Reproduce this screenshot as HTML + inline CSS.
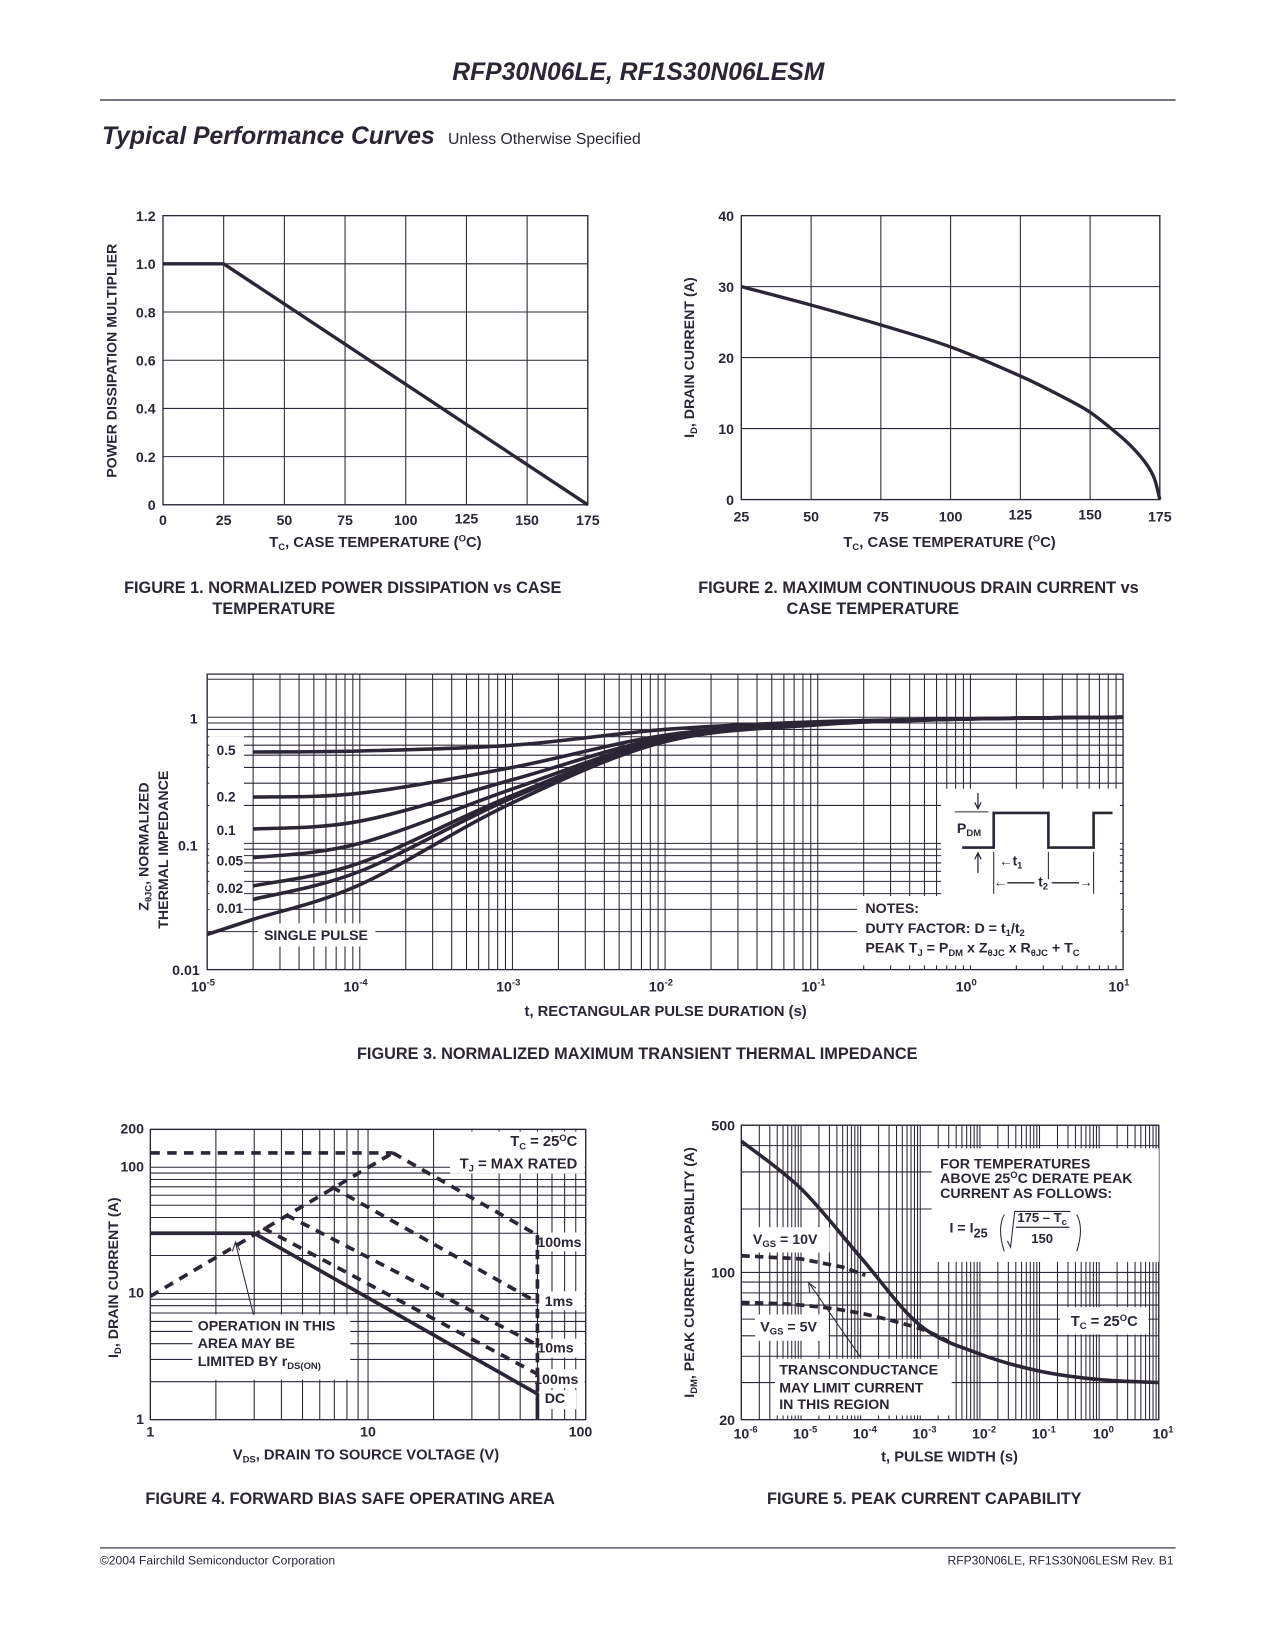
<!DOCTYPE html>
<html><head><meta charset="utf-8"><style>
html,body{margin:0;padding:0;background:#fff;}
svg{display:block;font-family:"Liberation Sans",sans-serif;}
.t{font-weight:bold;fill:#2b2535;}
</style></head><body>
<svg id="page" xmlns="http://www.w3.org/2000/svg" width="1275" height="1650" viewBox="0 0 1212.5 1569">
<rect x="0" y="0" width="1212.5" height="1569" fill="#fff"/>
<text x="607" y="76" text-anchor="middle" font-size="23.5" font-style="italic" class="t">RFP30N06LE, RF1S30N06LESM</text>
<line x1="95" y1="95" x2="1118" y2="95" stroke="#2b2535" stroke-width="1.2"/>
<text x="97" y="137" font-size="23.5" font-style="italic" class="t">Typical Performance Curves</text>
<text x="426" y="137" font-size="15" fill="#2b2535">Unless Otherwise Specified</text>
<line x1="95" y1="1472" x2="1118" y2="1472" stroke="#2b2535" stroke-width="1"/>
<text x="95" y="1488" font-size="11.5" fill="#2b2535">©2004 Fairchild Semiconductor Corporation</text>
<text x="1116" y="1488" font-size="11.5" text-anchor="end" fill="#2b2535">RFP30N06LE, RF1S30N06LESM Rev. B1</text>

<text x="118" y="564" font-size="15.5" class="t">FIGURE 1.  NORMALIZED POWER DISSIPATION vs CASE</text>
<text x="202" y="584" font-size="15.5" class="t">TEMPERATURE</text>
<text x="664" y="564" font-size="15.5" class="t">FIGURE 2.  MAXIMUM CONTINUOUS DRAIN CURRENT vs</text>
<text x="748" y="584" font-size="15.5" class="t">CASE TEMPERATURE</text>
<text x="606" y="1007" font-size="15.5" text-anchor="middle" class="t">FIGURE 3.  NORMALIZED MAXIMUM TRANSIENT THERMAL IMPEDANCE</text>
<text x="333" y="1430" font-size="15.5" text-anchor="middle" class="t">FIGURE 4.  FORWARD BIAS SAFE OPERATING AREA</text>
<text x="879" y="1430" font-size="15.5" text-anchor="middle" class="t">FIGURE 5.  PEAK CURRENT CAPABILITY</text>
<g id="charts"></g>
</svg>
<script>
// ---------- DATA ----------
// Figure 1
const f1Temps = [0, 25, 175];
const f1Mult = [1.0, 1.0, 0.0];
const f1XTicks = [0, 25, 50, 75, 100, 125, 150, 175];
const f1YTicks = [0, 0.2, 0.4, 0.6, 0.8, 1.0, 1.2];
const f1YLabels = ["0", "0.2", "0.4", "0.6", "0.8", "1.0", "1.2"];
// Figure 2
const f2Temps = [25, 50, 75, 100, 125, 140, 150, 160, 165, 170, 173, 175];
const f2Current = [30, 27.4, 24.6, 21.5, 17.4, 14.5, 12.3, 9.2, 7.4, 5.1, 3.0, 0];
const f2XTicks = [25, 50, 75, 100, 125, 150, 175];
const f2YTicks = [0, 10, 20, 30, 40];
// Figure 3
const f3Times = [2e-5, 1e-4, 1e-3, 1e-2, 1e-1, 1, 10];
const f3D05 = [0.53, 0.54, 0.60, 0.80, 0.92, 0.97, 1.0];
const f3D02 = [0.233, 0.25, 0.40, 0.72, 0.90, 0.97, 1.0];
const f3D01 = [0.13, 0.15, 0.32, 0.69, 0.89, 0.97, 1.0];
const f3D005 = [0.077, 0.10, 0.27, 0.67, 0.88, 0.97, 1.0];
const f3D002 = [0.046, 0.07, 0.24, 0.66, 0.88, 0.97, 1.0];
const f3D001 = [0.036, 0.06, 0.23, 0.65, 0.88, 0.97, 1.0];
const f3SingleTimes = [1e-5, 2e-5, 1e-4, 1e-3, 1e-2, 1e-1, 1, 10];
const f3Single = [0.019, 0.025, 0.047, 0.21, 0.64, 0.87, 0.97, 1.0];
const f3DutyLabels = ["0.5", "0.2", "0.1", "0.05", "0.02", "0.01"];
const f3XTickExp = [-5, -4, -3, -2, -1, 0, 1];
// Figure 4
const f4TopV = [1, 13];
const f4TopI = [130, 130];
const f4RdsV = [1, 13];
const f4RdsI = [9.5, 130];
const f4_100msV = [13, 60];
const f4_100msI = [130, 29];
const f4_1msV = [6.8, 60];
const f4_1msI = [70, 8.5];
const f4_10msV = [4.2, 60];
const f4_10msI = [42, 3.9];
const f4_100usV = [3.3, 60];
const f4_100usI = [33, 2.3];
const f4DcV = [1, 3, 60, 60];
const f4DcI = [30, 30, 1.6, 1];
const f4XTicks = [1, 10, 100];
const f4YTicks = [1, 10, 100, 200];
// Figure 5
const f5Times = [1e-6, 1e-5, 1e-4, 1e-3, 1e-2, 1e-1, 1, 10];
const f5Peak = [420, 250, 118, 56, 41, 34, 31, 30];
const f5Vgs10T = [1e-6, 1e-5, 5e-5, 1.2e-4];
const f5Vgs10I = [120, 116, 106, 97];
const f5Vgs5T = [1e-6, 1e-5, 1e-4, 1e-3, 3e-3];
const f5Vgs5I = [72, 70, 64, 54, 47];
const f5XTickExp = [-6, -5, -4, -3, -2, -1, 0, 1];
const f5YTicks = [20, 100, 500];

// ---------- HELPERS ----------
const NS = "http://www.w3.org/2000/svg";
const root = document.getElementById('charts');
const INK = "#2b2535";
const FS = 1.08;
function mk(tag, attrs, name, parent) {
  const el = document.createElementNS(NS, tag);
  for (const k in attrs) el.setAttribute(k, attrs[k]);
  
  
  (parent || root).appendChild(el);
  return el;
}
function txt(x, y, s, size, anchor, name, parent) {
  const el = mk('text', {x: x, y: y, 'font-size': (size * FS).toFixed(2), 'text-anchor': anchor || 'start', class: 't'}, name, parent);
  el.innerHTML = s;
  return el;
}
function lin(d0, d1, r0, r1) { return v => r0 + (v - d0) * (r1 - r0) / (d1 - d0); }
function logs(d0, d1, r0, r1) { const a = Math.log10(d0), b = Math.log10(d1); return v => r0 + (Math.log10(v) - a) * (r1 - r0) / (b - a); }
function smoothPath(pts) {
  let d = "M" + pts[0][0].toFixed(2) + "," + pts[0][1].toFixed(2);
  for (let i = 0; i < pts.length - 1; i++) {
    const p0 = pts[Math.max(0, i - 1)], p1 = pts[i], p2 = pts[i + 1], p3 = pts[Math.min(pts.length - 1, i + 2)];
    const c1 = [p1[0] + (p2[0] - p0[0]) / 6, p1[1] + (p2[1] - p0[1]) / 6];
    const c2 = [p2[0] - (p3[0] - p1[0]) / 6, p2[1] - (p3[1] - p1[1]) / 6];
    d += " C" + c1.map(v => v.toFixed(2)).join(",") + " " + c2.map(v => v.toFixed(2)).join(",") + " " + p2[0].toFixed(2) + "," + p2[1].toFixed(2);
  }
  return d;
}
function series(xs, ys, sx, sy, smooth, attrs, name, parent) {
  const pts = xs.map((x, i) => [sx(x), sy(ys[i])]);
  const d = smooth ? smoothPath(pts) : "M" + pts.map(p => p[0].toFixed(2) + "," + p[1].toFixed(2)).join(" L");
  const a = Object.assign({d: d, fill: 'none', stroke: INK, 'stroke-width': 3.2, 'stroke-linejoin': 'round'}, attrs || {});
  return mk('path', a, name, parent);
}
function logValues(lo, hi) {
  const out = [];
  for (let e = Math.floor(Math.log10(lo) - 1e-9); e <= Math.ceil(Math.log10(hi)); e++)
    for (let k = 1; k <= 9; k++) { const v = k * Math.pow(10, e); if (v >= lo * 0.999 && v <= hi * 1.001) out.push(v); }
  return out;
}
function whiteBox(x, y, w, h, name, parent) { return mk('rect', {x: x, y: y, width: w, height: h, fill: '#fff'}, name, parent); }

// ---------- FIGURE 1 ----------
(function () {
  const g = mk('g', {}, 'figure1-chart');
  const X0 = 155, X1 = 559, Y0 = 480, Y1 = 205;
  const sx = lin(0, 175, X0, X1), sy = lin(0, 1.2, Y0, Y1);
  f1XTicks.forEach(v => mk('line', {x1: sx(v), y1: Y1, x2: sx(v), y2: Y0, stroke: INK, 'stroke-width': 1}, 'fig1-vgrid', g));
  f1YTicks.forEach(v => mk('line', {x1: X0, y1: sy(v), x2: X1, y2: sy(v), stroke: INK, 'stroke-width': 1}, 'fig1-hgrid', g));
  mk('rect', {x: X0, y: Y1, width: X1 - X0, height: Y0 - Y1, fill: 'none', stroke: INK, 'stroke-width': 1.2}, 'fig1-frame', g);
  f1XTicks.forEach((v, i) => txt(sx(v), (i === 5 ? 498 : 499), String(v), 12.5, 'middle', 'fig1-x-tick-label', g));
  f1YTicks.forEach((v, i) => txt(148, sy(v) + 5, f1YLabels[i], 12.5, 'end', 'fig1-y-tick-label', g));
  series(f1Temps, f1Mult, sx, sy, false, {}, 'fig1-power-curve', g);
  txt(357, 520, 'T<tspan font-size="9" dy="3">C</tspan><tspan dy="-3">, CASE TEMPERATURE (</tspan><tspan font-size="9" dy="-5">O</tspan><tspan dy="5">C)</tspan>', 13, 'middle', 'fig1-x-axis-title', g);
  const yt = txt(0, 0, 'POWER DISSIPATION MULTIPLIER', 12.5, 'middle', 'fig1-y-axis-title', g);
  yt.setAttribute('transform', 'translate(111,343) rotate(-90)');
})();

// ---------- FIGURE 2 ----------
(function () {
  const g = mk('g', {}, 'figure2-chart');
  const X0 = 705, X1 = 1103, Y0 = 475, Y1 = 205;
  const sx = lin(25, 175, X0, X1), sy = lin(0, 40, Y0, Y1);
  f2XTicks.forEach(v => mk('line', {x1: sx(v), y1: Y1, x2: sx(v), y2: Y0, stroke: INK, 'stroke-width': 1}, 'fig2-vgrid', g));
  f2YTicks.forEach(v => mk('line', {x1: X0, y1: sy(v), x2: X1, y2: sy(v), stroke: INK, 'stroke-width': 1}, 'fig2-hgrid', g));
  mk('rect', {x: X0, y: Y1, width: X1 - X0, height: Y0 - Y1, fill: 'none', stroke: INK, 'stroke-width': 1.2}, 'fig2-frame', g);
  f2XTicks.forEach(v => txt(sx(v), (v === 125 || v === 150) ? 494 : 496, String(v), 12.5, 'middle', 'fig2-x-tick-label', g));
  f2YTicks.forEach(v => txt(698, sy(v) + 5, String(v), 12.5, 'end', 'fig2-y-tick-label', g));
  series(f2Temps, f2Current, sx, sy, true, {}, 'fig2-drain-current-curve', g);
  txt(903, 520, 'T<tspan font-size="9" dy="3">C</tspan><tspan dy="-3">, CASE TEMPERATURE (</tspan><tspan font-size="9" dy="-5">O</tspan><tspan dy="5">C)</tspan>', 13, 'middle', 'fig2-x-axis-title', g);
  const yt = txt(0, 0, 'I<tspan font-size="9" dy="3">D</tspan><tspan dy="-3">, DRAIN CURRENT (A)</tspan>', 12.5, 'middle', 'fig2-y-axis-title', g);
  yt.setAttribute('transform', 'translate(660,340) rotate(-90)');
})();

// ---------- FIGURE 3 ----------
(function () {
  const g = mk('g', {}, 'figure3-chart');
  const X0 = 197, X1 = 1068, Y0 = 922, Y1 = 641;
  const sx = logs(1e-5, 10, X0, X1);
  const sy = v => Y0 - 120 * (Math.log10(v) + 2);
  logValues(1e-5, 10).forEach(v => mk('line', {x1: sx(v), y1: Y1, x2: sx(v), y2: Y0, stroke: INK, 'stroke-width': 1}, 'fig3-vgrid', g));
  logValues(0.01, 2).forEach(v => mk('line', {x1: X0, y1: sy(v), x2: X1, y2: sy(v), stroke: INK, 'stroke-width': 1}, 'fig3-hgrid', g));
  mk('rect', {x: X0, y: Y1, width: X1 - X0, height: Y0 - Y1, fill: 'none', stroke: INK, 'stroke-width': 1.2}, 'fig3-frame', g);
  whiteBox(199, 700, 33, 180, 'fig3-duty-label-area', g);
  whiteBox(245, 878, 112, 22, 'fig3-single-pulse-label-box', g);
  whiteBox(895, 750, 170, 102, 'fig3-inset-box', g);
  whiteBox(815, 852, 251, 66, 'fig3-notes-box', g);
  f3XTickExp.forEach(e => txt(sx(Math.pow(10, e)) - 4, 943, '10<tspan font-size="9" dy="-6">' + e + '</tspan>', 12.5, 'middle', 'fig3-x-tick-label', g));
  txt(188, 688, '1', 12.5, 'end', 'fig3-y-tick-label', g);
  txt(188, 809, '0.1', 12.5, 'end', 'fig3-y-tick-label', g);
  txt(190, 927, '0.01', 12.5, 'end', 'fig3-y-tick-label', g);
  const lblY = [718, 762, 794, 823, 849, 868];
  f3DutyLabels.forEach((s, i) => txt(206, lblY[i], s, 12, 'start', 'fig3-duty-label', g));
  const sets = [f3D05, f3D02, f3D01, f3D005, f3D002, f3D001];
  sets.forEach((arr, i) => series(f3Times, arr, sx, sy, true, {'stroke-width': 3.4}, 'fig3-duty-curve-' + f3DutyLabels[i], g));
  series(f3SingleTimes, f3Single, sx, sy, true, {'stroke-width': 3.4}, 'fig3-single-pulse-curve', g);
  txt(251, 894, 'SINGLE PULSE', 12.5, 'start', 'fig3-single-pulse-label', g);
  mk('path', {d: 'M915,806 L945,806 L945,773 L997,773 L997,806 L1040,806 L1040,773 L1058,773', fill: 'none', stroke: INK, 'stroke-width': 2.5}, 'fig3-pulse-waveform', g);
  mk('line', {x1: 908, y1: 772, x2: 940, y2: 772, stroke: INK, 'stroke-width': 1}, 'fig3-pdm-ref', g);
  mk('path', {d: 'M930,754 L930,768 M927,763 L930,769 L933,763', fill: 'none', stroke: INK, 'stroke-width': 1.2}, 'fig3-pdm-arrow-down', g);
  mk('path', {d: 'M930,830 L930,812 M927,817 L930,811 L933,817', fill: 'none', stroke: INK, 'stroke-width': 1.2}, 'fig3-pdm-arrow-up', g);
  txt(910, 792, 'P<tspan font-size="9" dy="3">DM</tspan>', 12.5, 'start', 'fig3-pdm-label', g);
  mk('line', {x1: 945, y1: 810, x2: 945, y2: 850, stroke: INK, 'stroke-width': 1}, 'fig3-t1-tick', g);
  mk('line', {x1: 997, y1: 810, x2: 997, y2: 836, stroke: INK, 'stroke-width': 1}, 'fig3-t1-end-tick', g);
  mk('line', {x1: 1040, y1: 810, x2: 1040, y2: 850, stroke: INK, 'stroke-width': 1}, 'fig3-t2-tick', g);
  txt(950, 823, '←t<tspan font-size="9" dy="3">1</tspan>', 12, 'start', 'fig3-t1-label', g);
  txt(992, 843, '←—— t<tspan font-size="9" dy="3">2</tspan><tspan dy="-3"> ——→</tspan>', 12, 'middle', 'fig3-t2-label', g);
  txt(823, 868, 'NOTES:', 12.5, 'start', 'fig3-notes-title', g);
  txt(823, 887, 'DUTY FACTOR: D = t<tspan font-size="9" dy="3">1</tspan><tspan dy="-3">/t</tspan><tspan font-size="9" dy="3">2</tspan>', 12.5, 'start', 'fig3-notes-duty', g);
  txt(823, 906, 'PEAK T<tspan font-size="9" dy="3">J</tspan><tspan dy="-3"> = P</tspan><tspan font-size="9" dy="3">DM</tspan><tspan dy="-3"> x Z</tspan><tspan font-size="9" dy="3">θJC</tspan><tspan dy="-3"> x R</tspan><tspan font-size="9" dy="3">θJC</tspan><tspan dy="-3"> + T</tspan><tspan font-size="9" dy="3">C</tspan>', 12.5, 'start', 'fig3-notes-peak', g);
  txt(633, 966, 't, RECTANGULAR PULSE DURATION (s)', 13, 'middle', 'fig3-x-axis-title', g);
  const y1 = txt(0, 0, 'Z<tspan font-size="9" dy="3">θJC</tspan><tspan dy="-3">, NORMALIZED</tspan>', 12.5, 'middle', 'fig3-y-axis-title', g);
  y1.setAttribute('transform', 'translate(141,805) rotate(-90)');
  const y2 = txt(0, 0, 'THERMAL IMPEDANCE', 12.5, 'middle', 'fig3-y-axis-title-2', g);
  y2.setAttribute('transform', 'translate(160,808) rotate(-90)');
})();

// ---------- FIGURE 4 ----------
(function () {
  const g = mk('g', {}, 'figure4-chart');
  const X0 = 143, X1 = 557, Y0 = 1350, Y1 = 1074;
  const sx = logs(1, 100, X0, X1);
  const sy = v => Y0 - 120 * Math.log10(v);
  logValues(1, 100).forEach(v => mk('line', {x1: sx(v), y1: Y1, x2: sx(v), y2: Y0, stroke: INK, 'stroke-width': 1}, 'fig4-vgrid', g));
  logValues(1, 200).forEach(v => mk('line', {x1: X0, y1: sy(v), x2: X1, y2: sy(v), stroke: INK, 'stroke-width': 1}, 'fig4-hgrid', g));
  mk('rect', {x: X0, y: Y1, width: X1 - X0, height: Y0 - Y1, fill: 'none', stroke: INK, 'stroke-width': 1.2}, 'fig4-frame', g);
  whiteBox(428, 1076, 128, 40, 'fig4-conditions-box', g);
  whiteBox(183, 1250, 150, 62, 'fig4-operation-note-box', g);
  whiteBox(512, 1172, 44, 18, 'fig4-label-box', g);
  whiteBox(512, 1228, 44, 18, 'fig4-label-box', g);
  whiteBox(512, 1273, 44, 18, 'fig4-label-box', g);
  whiteBox(512, 1302, 44, 18, 'fig4-label-box', g);
  whiteBox(512, 1322, 36, 18, 'fig4-label-box', g);
  f4XTicks.forEach(v => txt(sx(v) + (v === 100 ? -5 : 0), 1366, String(v), 12.5, 'middle', 'fig4-x-tick-label', g));
  f4YTicks.forEach(v => txt(137, sy(v) + 4, String(v), 12.5, 'end', 'fig4-y-tick-label', g));
  const dash = {'stroke-dasharray': '9,7', 'stroke-width': 3.5};
  series(f4TopV, f4TopI, sx, sy, false, dash, 'fig4-current-limit-line', g);
  series(f4RdsV, f4RdsI, sx, sy, false, dash, 'fig4-rdson-limit-line', g);
  series(f4_100msV, f4_100msI, sx, sy, false, dash, 'fig4-100ms-line', g);
  series(f4_1msV, f4_1msI, sx, sy, false, dash, 'fig4-1ms-line', g);
  series(f4_10msV, f4_10msI, sx, sy, false, dash, 'fig4-10ms-line', g);
  series(f4_100usV, f4_100usI, sx, sy, false, dash, 'fig4-100us-line', g);
  mk('line', {x1: sx(60), y1: sy(29), x2: sx(60), y2: sy(1.6), stroke: INK, 'stroke-width': 3.5, 'stroke-dasharray': '9,5'}, 'fig4-vdss-limit', g);
  series(f4DcV, f4DcI, sx, sy, false, {'stroke-width': 3.5}, 'fig4-dc-line', g);
  mk('path', {d: 'M241,1250 L224,1182 M221,1190 L224,1181 L228,1189', fill: 'none', stroke: INK, 'stroke-width': 1}, 'fig4-note-arrow', g);
  txt(549, 1090, 'T<tspan font-size="9" dy="3">C</tspan><tspan dy="-3"> = 25</tspan><tspan font-size="9" dy="-5">O</tspan><tspan dy="5">C</tspan>', 13, 'end', 'fig4-tc-label', g);
  txt(549, 1111, 'T<tspan font-size="9" dy="3">J</tspan><tspan dy="-3"> = MAX RATED</tspan>', 13, 'end', 'fig4-tj-label', g);
  txt(511, 1186, '100ms', 12.5, 'start', 'fig4-label-100ms', g);
  txt(518, 1242, '1ms', 12.5, 'start', 'fig4-label-1ms', g);
  txt(511, 1286, '10ms', 12.5, 'start', 'fig4-label-10ms', g);
  txt(508, 1316, '100ms', 12.5, 'start', 'fig4-label-100us', g);
  txt(518, 1334, 'DC', 12.5, 'start', 'fig4-label-dc', g);
  txt(188, 1265, 'OPERATION IN THIS', 12.5, 'start', 'fig4-note-line1', g);
  txt(188, 1282, 'AREA MAY BE', 12.5, 'start', 'fig4-note-line2', g);
  txt(188, 1299, 'LIMITED BY r<tspan font-size="9" dy="3">DS(ON)</tspan>', 12.5, 'start', 'fig4-note-line3', g);
  txt(348, 1388, 'V<tspan font-size="9" dy="3">DS</tspan><tspan dy="-3">, DRAIN TO SOURCE VOLTAGE (V)</tspan>', 13, 'middle', 'fig4-x-axis-title', g);
  const yt = txt(0, 0, 'I<tspan font-size="9" dy="3">D</tspan><tspan dy="-3">, DRAIN CURRENT (A)</tspan>', 12.5, 'middle', 'fig4-y-axis-title', g);
  yt.setAttribute('transform', 'translate(112,1215) rotate(-90)');
})();

// ---------- FIGURE 5 ----------
(function () {
  const g = mk('g', {}, 'figure5-chart');
  const X0 = 705, X1 = 1102, Y0 = 1350, Y1 = 1070;
  const sx = logs(1e-6, 10, X0, X1);
  const sy = logs(20, 500, Y0, Y1);
  logValues(1e-6, 10).forEach(v => mk('line', {x1: sx(v), y1: Y1, x2: sx(v), y2: Y0, stroke: INK, 'stroke-width': 1}, 'fig5-vgrid', g));
  logValues(20, 500).forEach(v => mk('line', {x1: X0, y1: sy(v), x2: X1, y2: sy(v), stroke: INK, 'stroke-width': 1}, 'fig5-hgrid', g));
  mk('rect', {x: X0, y: Y1, width: X1 - X0, height: Y0 - Y1, fill: 'none', stroke: INK, 'stroke-width': 1.2}, 'fig5-frame', g);
  whiteBox(886, 1092, 216, 108, 'fig5-derating-box', g);
  whiteBox(1008, 1243, 84, 26, 'fig5-tc-box', g);
  whiteBox(711, 1167, 78, 24, 'fig5-vgs10-box', g);
  whiteBox(718, 1250, 70, 25, 'fig5-vgs5-box', g);
  whiteBox(737, 1292, 168, 54, 'fig5-transconductance-box', g);
  f5XTickExp.forEach(e => txt(sx(Math.pow(10, e)) + 4, 1368, '10<tspan font-size="9" dy="-6">' + e + '</tspan>', 12.5, 'middle', 'fig5-x-tick-label', g));
  f5YTicks.forEach(v => txt(699, sy(v) + 5, String(v), 12.5, 'end', 'fig5-y-tick-label', g));
  series(f5Times, f5Peak, sx, sy, true, {'stroke-width': 3.4}, 'fig5-peak-current-curve', g);
  const dash = {'stroke-dasharray': '8,5', 'stroke-width': 3.5};
  series(f5Vgs10T, f5Vgs10I, sx, sy, false, dash, 'fig5-vgs10-line', g);
  series(f5Vgs5T, f5Vgs5I, sx, sy, true, dash, 'fig5-vgs5-line', g);
  mk('path', {d: 'M818,1290 L770,1221 M770,1229 L769,1220 L776,1225', fill: 'none', stroke: INK, 'stroke-width': 1}, 'fig5-note-arrow', g);
  txt(894, 1111, 'FOR TEMPERATURES', 12.5, 'start', 'fig5-derate-line1', g);
  txt(894, 1125, 'ABOVE 25<tspan font-size="9" dy="-5">O</tspan><tspan dy="5">C DERATE PEAK</tspan>', 12.5, 'start', 'fig5-derate-line2', g);
  txt(894, 1139, 'CURRENT AS FOLLOWS:', 12.5, 'start', 'fig5-derate-line3', g);
  txt(903, 1172, 'I  =  I<tspan font-size="12" dy="5">25</tspan>', 12.5, 'start', 'fig5-formula-lhs', g);
  mk('path', {d: 'M955,1155 Q948,1168 955,1190 M1024,1155 Q1031,1168 1024,1190 M958,1180 L961,1186 L965,1152 L1018,1152', fill: 'none', stroke: INK, 'stroke-width': 1}, 'fig5-formula-brackets', g);
  mk('line', {x1: 966, y1: 1167, x2: 1017, y2: 1167, stroke: INK, 'stroke-width': 1.2}, 'fig5-formula-fraction-bar', g);
  txt(991, 1162, '175 – T<tspan font-size="9" dy="3">c</tspan>', 11.5, 'middle', 'fig5-formula-numerator', g);
  txt(991, 1182, '150', 11.5, 'middle', 'fig5-formula-denominator', g);
  txt(1082, 1261, 'T<tspan font-size="9" dy="3">C</tspan><tspan dy="-3"> = 25</tspan><tspan font-size="9" dy="-5">O</tspan><tspan dy="5">C</tspan>', 13, 'end', 'fig5-tc-label', g);
  txt(716, 1183, 'V<tspan font-size="9" dy="3">GS</tspan><tspan dy="-3"> = 10V</tspan>', 12.5, 'start', 'fig5-vgs10-label', g);
  txt(723, 1266, 'V<tspan font-size="9" dy="3">GS</tspan><tspan dy="-3"> = 5V</tspan>', 12.5, 'start', 'fig5-vgs5-label', g);
  txt(741, 1307, 'TRANSCONDUCTANCE', 12.5, 'start', 'fig5-note-line1', g);
  txt(741, 1324, 'MAY LIMIT CURRENT', 12.5, 'start', 'fig5-note-line2', g);
  txt(741, 1340, 'IN THIS REGION', 12.5, 'start', 'fig5-note-line3', g);
  txt(903, 1390, 't, PULSE WIDTH (s)', 13, 'middle', 'fig5-x-axis-title', g);
  const yt = txt(0, 0, 'I<tspan font-size="9" dy="3">DM</tspan><tspan dy="-3">, PEAK CURRENT CAPABILITY (A)</tspan>', 12.5, 'middle', 'fig5-y-axis-title', g);
  yt.setAttribute('transform', 'translate(660,1210) rotate(-90)');
})();
</script>
</body></html>
